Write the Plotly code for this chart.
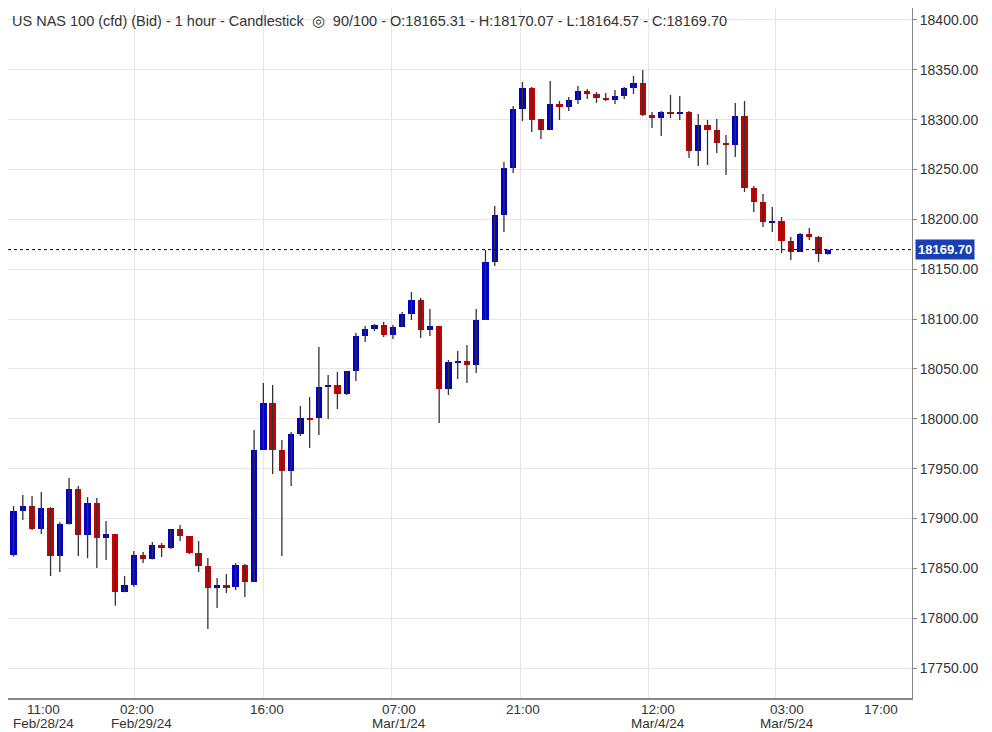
import plotly.graph_objects as go

opens = [17911.5,17863.4,17907.5,17912.5,17889.4,17910.5,17862.4,17894.4,17929.6,17883.4,
         17915.5,17880.4,17884.4,17826.2,17833.3,17863.4,17859.3,17873.4,17870.4,17889.4,
         17882.4,17865.4,17852.3,17830.3,17833.3,17831.3,17853.3,17836.3,17968.7,18015.8,
         17968.7,17947.6,17984.7,18000.8,18000.8,18031.9,18033.9,18024.9,18047.9,18083.0,
         18090.0,18094.1,18084.0,18092.1,18105.1,18119.1,18089.0,18093.1,18029.9,18057.0,
         18058.0,18054.0,18099.1,18157.3,18204.4,18251.6,18310.8,18331.8,18300.7,18289.7,
         18315.8,18312.8,18319.8,18328.8,18325.8,18321.8,18319.8,18323.8,18331.8,18336.8,
         18304.7,18301.7,18307.7,18305.7,18307.7,18268.6,18294.7,18289.7,18276.6,18274.6,
         18303.7,18231.5,18217.5,18197.4,18198.4,18178.4,18167.3,18185.4,18182.4,18165.31]
highs = [17928.6,17912.5,17923.5,17922.5,17926.5,17911.5,17896.5,17940.6,17932.6,17921.5,
         17920.5,17897.5,17884.4,17842.3,17867.4,17866.4,17876.4,17875.4,17889.4,17893.4,
         17882.4,17877.4,17860.3,17840.3,17844.3,17855.3,17854.3,17988.7,18035.9,18033.9,
         17978.7,17986.7,18012.8,18021.8,18072.0,18043.9,18046.9,18047.9,18086.0,18093.0,
         18095.1,18097.1,18094.1,18107.1,18127.2,18121.1,18110.1,18093.1,18059.0,18068.0,
         18074.0,18110.1,18169.3,18213.5,18257.6,18313.8,18337.8,18332.8,18300.7,18338.8,
         18318.8,18322.8,18333.8,18330.8,18327.8,18326.8,18329.8,18332.8,18343.9,18349.9,
         18307.7,18308.7,18324.8,18323.8,18308.7,18305.7,18299.7,18300.7,18284.7,18316.8,
         18318.8,18233.5,18225.5,18212.5,18202.4,18182.4,18186.4,18191.4,18183.4,18170.07]
lows = [17858.0,17861.7,17898.5,17888.4,17884.4,17842.3,17846.3,17894.0,17862.4,17860.3,
        17850.3,17858.3,17812.5,17826.0,17831.3,17855.3,17859.0,17861.3,17869.4,17877.4,
        17864.4,17846.3,17789.1,17810.2,17825.2,17828.3,17821.2,17836.3,17968.7,17944.6,
        17862.4,17932.6,17982.7,17970.7,17983.7,17999.8,18009.8,18023.9,18037.9,18077.0,
        18088.0,18082.0,18080.0,18092.0,18099.1,18081.0,18083.0,17995.8,18023.9,18039.9,
        18035.9,18045.9,18099.1,18153.3,18187.4,18246.6,18298.7,18287.7,18280.7,18289.7,
        18299.7,18308.7,18315.8,18320.8,18316.8,18318.8,18315.8,18320.8,18325.8,18303.7,
        18291.7,18283.7,18301.7,18299.7,18261.6,18253.6,18254.6,18266.6,18244.6,18262.6,
        18227.5,18207.4,18192.4,18187.4,18166.3,18159.3,18167.3,18179.4,18157.3,18164.57]
closes = [17863.4,17907.5,17912.5,17889.4,17910.5,17862.4,17894.4,17929.6,17883.4,17915.5,
          17880.4,17884.4,17826.2,17833.3,17863.4,17859.3,17873.4,17870.4,17889.4,17882.4,
          17865.4,17852.3,17830.3,17833.3,17831.3,17853.3,17836.3,17968.7,18015.8,17968.7,
          17947.6,17984.7,18000.8,18000.1,18031.9,18033.9,18024.9,18047.9,18083.0,18090.0,
          18094.1,18084.0,18092.1,18105.1,18119.1,18089.0,18093.1,18029.9,18057.0,18058.0,
          18054.0,18099.1,18157.3,18204.4,18251.6,18310.8,18331.8,18299.7,18289.7,18315.8,
          18312.8,18319.8,18328.8,18325.8,18321.8,18319.8,18323.8,18331.8,18336.8,18304.7,
          18301.7,18307.7,18305.7,18307.7,18268.6,18294.7,18289.7,18276.6,18274.6,18303.7,
          18231.5,18217.5,18197.4,18198.4,18178.4,18167.3,18185.4,18182.4,18165.3,18169.70]

grid_idx = [14.1, 28.0, 41.9, 55.8, 69.6, 83.4]
time_labels = ["11:00", "02:00", "16:00", "07:00", "21:00", "12:00", "03:00", "17:00"]
time_pos = [4.2, 14.3, 28.4, 42.7, 56.1, 70.6, 84.6, 94.8]
date_labels = ["Feb/28/24", "Feb/29/24", "Mar/1/24", "Mar/4/24", "Mar/5/24"]
date_pos = [4.2, 14.8, 42.7, 70.6, 84.6]
last_price = 18169.70
BLUE = "#0000c8"
RED = "#c80000"
AXFONT = "Liberation Sans Narrow, Arial Narrow, Liberation Sans"

n = len(opens)
xs = list(range(n))
wx, wy = [], []
for i in xs:
    wx += [i, i, None]
    wy += [lows[i], highs[i], None]

base, hgt, cols = [], [], []
for o, c in zip(opens, closes):
    lo, hi = min(o, c), max(o, c)
    if hi - lo < 1.5:
        mid = (hi + lo) / 2
        lo, hi = mid - 0.75, mid + 0.75
    base.append(lo)
    hgt.append(hi - lo)
    cols.append(BLUE if c >= o else RED)

fig = go.Figure()
fig.add_trace(go.Scatter(x=wx, y=wy, mode="lines", line=dict(color="#333333", width=1.3),
                         hoverinfo="skip", showlegend=False))
fig.add_trace(go.Bar(x=xs, y=hgt, base=base, marker=dict(color=cols, line=dict(width=0)),
                     width=0.68, showlegend=False))

fig.add_shape(type="line", xref="paper", x0=0, x1=1, y0=last_price, y1=last_price,
              line=dict(color="black", width=1, dash="3px,3px"))
fig.add_annotation(xref="paper", x=1.003, y=last_price, xanchor="left", yanchor="middle",
                   text="<b>%.2f</b>" % last_price, showarrow=False,
                   font=dict(color="white", size=13, family="Liberation Sans"),
                   bgcolor="#1a3fb3", borderpad=2)
for t, p in zip(time_labels, time_pos):
    fig.add_annotation(xref="x", yref="paper", x=p, y=0, yanchor="middle", yshift=-11,
                       text=t, showarrow=False,
                       font=dict(size=13.5, color="#333", family=AXFONT))
for t, p in zip(date_labels, date_pos):
    fig.add_annotation(xref="x", yref="paper", x=p, y=0, yanchor="middle", yshift=-25,
                       text=t, showarrow=False,
                       font=dict(size=13.5, color="#333", family=AXFONT))
fig.add_annotation(xref="paper", yref="paper", x=0.002, y=0.995, xanchor="left", yanchor="top",
                   text="US NAS 100 (cfd) (Bid) - 1 hour - Candlestick  ◎  90/100 - O:18165.31 - H:18170.07 - L:18164.57 - C:18169.70",
                   showarrow=False, font=dict(size=14.5, color="#333", family="Liberation Sans"))

fig.update_layout(
    width=984, height=724, margin=dict(l=0, r=80, t=0, b=34),
    plot_bgcolor="white", paper_bgcolor="white", bargap=0,
    xaxis=dict(range=[0.4, 98.1], tickvals=grid_idx, showticklabels=False,
               showgrid=True, gridcolor="#e6e6e6", showline=True, linecolor="#888",
               linewidth=2, ticks="", zeroline=False),
    yaxis=dict(range=[17720, 18412], side="right", dtick=50, tick0=17750,
               tickformat=".2f", showgrid=True, gridcolor="#e6e6e6", zeroline=False,
               showline=True, linecolor="#888", linewidth=1, ticks="outside",
               ticklen=4, tickcolor="#888",
               tickfont=dict(size=14, color="#333", family="Liberation Sans")),
)
fig.write_html("out.html")
